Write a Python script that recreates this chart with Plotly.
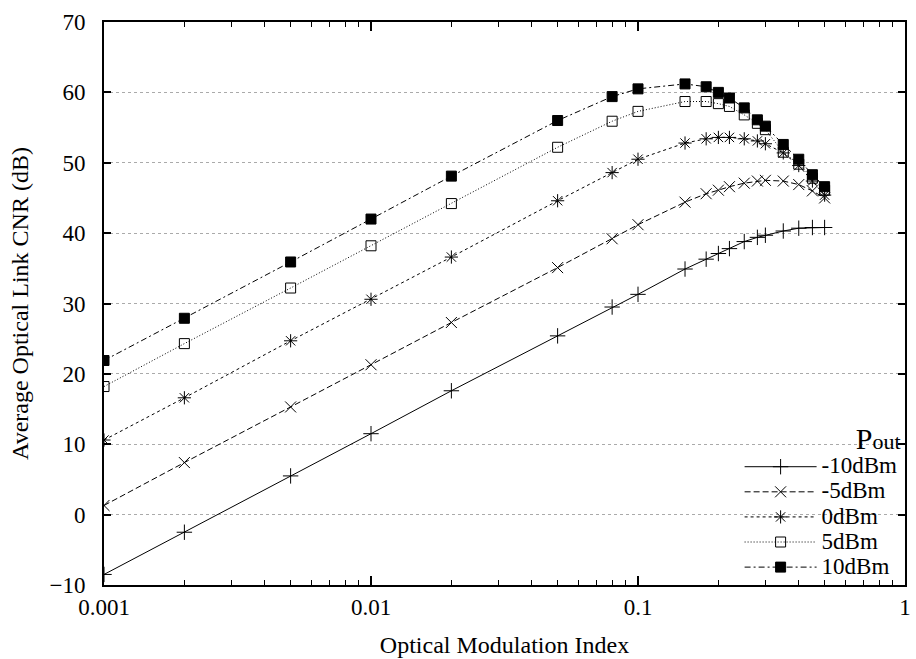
import plotly.graph_objects as go

omi = [0.001, 0.002, 0.005, 0.01, 0.02, 0.05, 0.08, 0.1, 0.15, 0.18, 0.2,
       0.22, 0.25, 0.28, 0.3, 0.35, 0.4, 0.45, 0.5]

cnr_m10 = [-8.5, -2.5, 5.5, 11.5, 17.6, 25.4, 29.5, 31.3, 34.9, 36.3, 37.1,
           37.8, 38.8, 39.4, 39.7, 40.3, 40.7, 40.8, 40.8]
cnr_m5 = [1.3, 7.4, 15.3, 21.3, 27.3, 35.1, 39.2, 41.2, 44.4, 45.6, 46.1,
          46.6, 47.1, 47.4, 47.5, 47.4, 46.9, 46.0, 45.0]
cnr_0 = [10.6, 16.6, 24.7, 30.6, 36.6, 44.6, 48.6, 50.5, 52.8, 53.4, 53.6,
         53.6, 53.4, 53.1, 52.7, 51.4, 49.6, 47.4, 45.4]
cnr_5 = [18.2, 24.3, 32.2, 38.2, 44.2, 52.2, 55.9, 57.3, 58.7, 58.7, 58.4,
         58.0, 56.8, 55.6, 54.7, 51.5, 49.8, 47.8, 46.1]
cnr_10 = [21.9, 27.9, 35.9, 42.0, 48.1, 56.0, 59.4, 60.5, 61.2, 60.8, 60.0,
          59.2, 57.8, 56.1, 55.2, 52.6, 50.5, 48.3, 46.6]

names = ["-10dBm", "-5dBm", "0dBm", "5dBm", "10dBm"]
series = [cnr_m10, cnr_m5, cnr_0, cnr_5, cnr_10]
dashes = ["solid", "6px,3px", "3px,3px", "1px,2px", "6px,3px,2px,3px"]
symbols = ["cross-thin", "x-thin", "asterisk-open", "square-open", "square"]
sizes = [11, 11, 11, 10, 10]

FONT = "Liberation Serif"

fig = go.Figure()
for name, ys, dsh, sym, sz in zip(names, series, dashes, symbols, sizes):
    fig.add_trace(go.Scatter(
        x=omi, y=ys, mode="lines+markers",
        name="<span style='font-size:23px'>" + name + "</span>",
        line=dict(color="black", width=1, dash=dsh),
        marker=dict(symbol=sym, size=sz, color="black",
                    line=dict(color="black", width=1)),
    ))

fig.update_layout(
    width=916, height=659,
    margin=dict(l=104, r=5, t=22, b=72),
    paper_bgcolor="white", plot_bgcolor="white",
    font=dict(family=FONT, size=23, color="black"),
    showlegend=True,
    legend=dict(
        x=0.997, xanchor="right", y=-0.001, yanchor="bottom",
        bgcolor="rgba(0,0,0,0)", borderwidth=0,
        font=dict(family=FONT, size=17, color="black"),
        itemwidth=72, tracegroupgap=0,
        title=dict(text="<span style='font-size:30px'>P</span>out",
                   font=dict(family=FONT, size=22), side="top right"),
    ),
    xaxis=dict(
        type="log", range=[-3, 0],
        tickvals=[0.001, 0.01, 0.1, 1], ticktext=["0.001", "0.01", "0.1", "1"],
        ticks="inside", ticklen=9, tickwidth=1.5, tickcolor="black",
        showline=True, linewidth=2, linecolor="black", mirror="ticks",
        showgrid=False, zeroline=False,
        minor=dict(ticks="inside", ticklen=5, tickwidth=1, tickcolor="black",
                   dtick="D1", showgrid=False),
        title=dict(text="Optical Modulation Index", standoff=18,
                   font=dict(family=FONT, size=24)),
        tickfont=dict(family=FONT, size=23),
    ),
    yaxis=dict(
        range=[-10, 70], dtick=10, tick0=0,
        ticks="inside", ticklen=7, tickwidth=1.5, tickcolor="black",
        showline=True, linewidth=2, linecolor="black", mirror="ticks",
        showgrid=True, gridcolor="#aaaaaa", gridwidth=1, griddash="dot",
        zeroline=False,
        ticklabelstandoff=12,
        title=dict(text="Average Optical Link CNR (dB)", standoff=14,
                   font=dict(family=FONT, size=24)),
        tickfont=dict(family=FONT, size=23),
    ),
)

fig.write_html("out.html")
